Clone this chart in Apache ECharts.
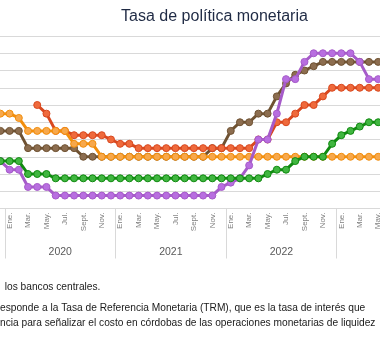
<!DOCTYPE html>
<html>
<head>
<meta charset="utf-8">
<script src="https://cdn.jsdelivr.net/npm/echarts@6/dist/echarts.min.js"></script>
<style>
  html, body { margin: 0; padding: 0; background: #fff; }
  #chart { width: 380px; height: 350px; }
</style>
</head>
<body>
<div id="chart"></div>
<script>
// months shown: Dic. 2019 .. May. 2023 (the picture is a crop of a wider chart)
const monthNames = ["Ene.", "Feb.", "Mar.", "Abr.", "May.", "Jun.", "Jul.", "Ago.", "Sept.", "Oct.", "Nov.", "Dic."];
const years = ["2019", "2020", "2021", "2022", "2023"];
const firstMonth = 11; // Dic.
const monthCount = 42;

// policy rates, percent
const dominicana = [4.5, 4.5, 4.5, 3.5, 3.5, 3.5, 3.5, 3.5, 3.5, 3, 3, 3, 3, 3, 3, 3, 3, 3, 3, 3, 3, 3, 3, 3.5, 3.5, 4.5, 5, 5, 5.5, 5.5, 6.5, 7.25, 7.75, 8, 8.25, 8.5, 8.5, 8.5, 8.5, 8.5, 8.5, 8.5];
const nicaragua = [null, null, null, null, 6, 5.5, 4.5, 4.5, 4.25, 4.25, 4.25, 4.25, 4, 3.75, 3.75, 3.5, 3.5, 3.5, 3.5, 3.5, 3.5, 3.5, 3.5, 3.5, 3.5, 3.5, 3.5, 3.5, 4, 4, 5, 5, 5.5, 6, 6, 6.5, 7, 7, 7, 7, 7, 7];
const honduras = [5.5, 5.5, 5.25, 4.5, 4.5, 4.5, 4.5, 4.5, 3.75, 3.75, 3.75, 3, 3, 3, 3, 3, 3, 3, 3, 3, 3, 3, 3, 3, 3, 3, 3, 3, 3, 3, 3, 3, 3, 3, 3, 3, 3, 3, 3, 3, 3, 3];
const costaRica = [2.75, 2.25, 2.25, 1.25, 1.25, 1.25, 0.75, 0.75, 0.75, 0.75, 0.75, 0.75, 0.75, 0.75, 0.75, 0.75, 0.75, 0.75, 0.75, 0.75, 0.75, 0.75, 0.75, 0.75, 1.25, 1.5, 1.75, 2.5, 4, 4, 5.5, 7.5, 7.5, 8.5, 9, 9, 9, 9, 9, 8.5, 7.5, 7.5];
const guatemala = [2.75, 2.75, 2.75, 2, 2, 2, 1.75, 1.75, 1.75, 1.75, 1.75, 1.75, 1.75, 1.75, 1.75, 1.75, 1.75, 1.75, 1.75, 1.75, 1.75, 1.75, 1.75, 1.75, 1.75, 1.75, 1.75, 1.75, 1.75, 2, 2.25, 2.25, 2.75, 3, 3, 3, 3.75, 4.25, 4.5, 4.75, 5, 5];

const title = "Tasa de política monetaria";
const notes = [
  "los bancos centrales.",
  "esponde a la Tasa de Referencia Monetaria (TRM), que es la tasa de interés que",
  "ncia para señalizar el costo en córdobas de las operaciones monetarias de liquidez",
];

const months = [];
for (let i = 0; i < monthCount; i++) {
  months.push(monthNames[(firstMonth + i) % 12]);
}

const slot = 9.214;
const plotLeft = 5 - slot;
const yearLeft = 5 - 12 * slot;
const plotTop = 36;
const plotBottom = 141.5;
const font = "Liberation Sans";

function lineSeries(name, data, lineColor, fillColor, z) {
  return {
    name,
    type: "line",
    data,
    z,
    xAxisIndex: 0,
    yAxisIndex: 0,
    symbol: "circle",
    symbolSize: 7,
    showAllSymbol: true,
    connectNulls: false,
    lineStyle: { color: lineColor, width: 3 },
    itemStyle: { color: fillColor, borderColor: lineColor, borderWidth: 1 },
  };
}

const chart = echarts.init(document.getElementById("chart"), null, { renderer: "canvas" });
chart.setOption({
  animation: false,
  backgroundColor: "#fff",
  title: {
    text: title,
    left: 209.5,
    textAlign: "center",
    top: 4,
    textStyle: { fontFamily: font, fontSize: 16, fontWeight: "normal", color: "#1f2a44" },
  },
  grid: [
    { left: plotLeft, width: monthCount * slot, top: plotTop, bottom: plotBottom, outerBoundsMode: "none" },
    { left: yearLeft, width: years.length * 12 * slot, top: plotTop, bottom: plotBottom, outerBoundsMode: "none" },
  ],
  xAxis: [
    {
      type: "category",
      gridIndex: 0,
      data: months,
      boundaryGap: true,
      axisLine: { lineStyle: { color: "#d9d9d9", width: 1 } },
      axisTick: { show: false },
      axisLabel: {
        rotate: 90,
        interval: (index) => index % 2 === 1,
        margin: 4,
        fontFamily: font,
        fontSize: 8,
        color: "#7f7f7f",
      },
      splitLine: { show: false },
    },
    {
      type: "category",
      gridIndex: 1,
      data: years,
      boundaryGap: true,
      axisLine: { show: false },
      axisTick: { show: true, length: 50, lineStyle: { color: "#d9d9d9", width: 1 } },
      axisLabel: { margin: 38, fontFamily: font, fontSize: 10.5, color: "#595959" },
      splitLine: { show: false },
    },
  ],
  yAxis: [
    {
      type: "value",
      gridIndex: 0,
      min: 0,
      max: 10,
      interval: 1,
      axisLine: { show: false },
      axisTick: { show: false },
      axisLabel: { show: false },
      splitLine: { lineStyle: { color: "#d9d9d9", width: 1 } },
    },
    { type: "value", gridIndex: 1, show: false, min: 0, max: 10 },
  ],
  graphic: notes.map((text, i) => ({
    type: "text",
    x: i === 0 ? 4.7 : 0,
    y: [287, 308, 323][i],
    style: { text, font: `10.2px "${font}"`, fill: "#1a1a1a", verticalAlign: "middle" },
  })),
  series: [
    lineSeries("República Dominicana", dominicana, "#6f5232", "#8c6d4f", 1),
    lineSeries("Nicaragua", nicaragua, "#d9481f", "#ef6a3c", 2),
    lineSeries("Honduras", honduras, "#f28e0c", "#f7a84c", 3),
    lineSeries("Costa Rica", costaRica, "#a65bc9", "#b86ee0", 4),
    lineSeries("Guatemala", guatemala, "#108a10", "#40b640", 5),
  ],
});
</script>
</body>
</html>
